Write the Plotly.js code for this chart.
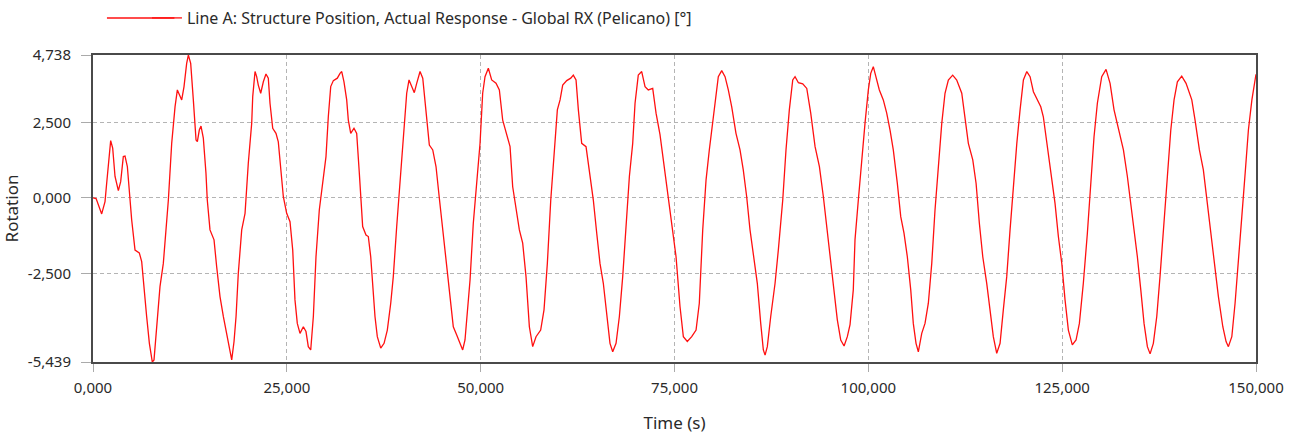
<!DOCTYPE html>
<html>
<head>
<meta charset="utf-8">
<script src="https://cdn.plot.ly/plotly-3.0.1.min.js"></script>
<style>
html,body{margin:0;padding:0;background:#fff;}
#chart{width:1297px;height:435px;}
</style>
</head>
<body>
<div id="chart"></div>
<script>
// Time (s)
const time = [
 0,0.4,1.12,1.55,1.76,1.98,2.28,2.54,2.84,3.27,3.57,3.91,4.13,4.43,4.77,4.99,5.42,5.97,6.28,6.58,
 6.92,7.27,7.65,7.87,8.21,8.64,9.07,9.72,10.15,10.58,10.88,11.14,11.44,11.74,12.08,12.3,12.6,12.94,13.29,13.46,
 13.71,13.93,14.23,14.57,14.74,15.09,15.61,15.95,16.38,16.81,17.24,17.67,17.89,18.19,18.45,18.74,19.18,19.61,20.03,20.47,
 20.6,20.9,21.11,21.32,21.63,21.97,22.31,22.61,22.83,23.18,23.6,23.9,24.34,
 24.55,24.98,25.41,25.76,26.05,26.35,26.7,27.13,27.47,27.77,28.08,28.42,28.76,29.19,29.63,30.05,30.35,30.66,31.0,31.51,
 31.86,32.08,32.37,32.72,32.93,33.24,33.66,34.01,34.35,34.78,35.21,35.51,35.82,36.08,36.37,36.67,37.11,37.54,37.96,38.4,
 38.73,39.17,39.6,40.11,40.46,40.76,41.1,41.44,41.75,42.18,42.53,42.82,43.04,43.38,43.82,44.24,44.67,45.18,45.62,46.05,
 46.47,46.91,47.34,47.68,47.98,48.41,
 48.63,49.05,49.49,49.92,50.26,50.56,50.99,51.42,51.98,52.41,52.84,53.36,53.79,54.13,54.56,54.99,55.42,55.85,56.28,56.71,
 57.14,57.74,58.17,58.6,59.04,59.46,59.89,60.24,60.58,61.1,61.62,61.95,62.3,62.6,63.03,63.59,64.01,64.53,64.97,65.39,
 65.82,66.26,66.68,67.03,67.46,67.89,68.32,68.75,69.18,69.61,69.91,70.33,70.77,71.2,71.62,72.19,72.62,73.13,73.56,
 74.2,74.77,75.2,75.71,76.14,76.65,77.22,77.78,78.2,78.64,79.07,79.49,79.93,80.36,80.65,81.09,81.52,81.94,82.38,82.93,
 83.45,83.87,84.31,84.74,85.26,85.68,86.12,86.46,86.68,86.97,87.41,87.97,88.39,88.96,89.38,89.81,90.25,90.55,90.98,91.54,
 92.06,92.57,93.13,93.69,94.2,94.64,95.06,95.49,96.0,96.44,96.87,97.29,97.64,
 98.06,98.28,98.71,99.15,99.57,100.0,100.31,100.64,100.99,101.42,101.93,102.37,102.8,103.22,103.74,104.18,104.6,105.03,105.47,105.8,
 106.15,106.45,106.89,107.31,107.74,108.18,108.6,109.03,109.47,109.89,110.32,110.88,111.4,112.05,112.47,112.9,113.47,113.9,114.32,114.76,
 115.27,115.7,116.12,116.56,116.99,117.41,117.85,118.28,118.71,119.15,119.57,120.0,120.44,120.86,121.29,121.81,122.24,
 122.57,123.01,123.66,124.08,124.51,124.95,125.37,125.8,126.31,126.79,127.22,127.73,128.25,128.68,129.11,129.54,130.1,130.66,131.18,131.69,
 132.25,132.9,133.41,133.85,134.27,134.7,135.14,135.56,135.99,136.34,136.76,137.2,137.62,138.14,138.57,139.01,139.43,139.86,140.42,140.98,
 141.72,142.14,142.7,143.21,143.65,144.17,144.59,145.15,145.72,146.14,146.44,146.88,147.3,147.73,148.17,148.6,149.02,149.47,149.9,150
];

// Rotation (°)
const rotation = [
 0,-0.02,-0.53,-0.12,0.48,1.15,1.90,1.65,0.71,0.24,0.54,1.37,1.39,1.04,0,-0.73,-1.73,-1.82,-2.11,-3.05,
 -3.93,-4.82,-5.439,-5.37,-4.27,-2.94,-2.17,-0.07,1.81,3.02,3.58,3.41,3.25,3.69,4.46,4.738,4.46,3.25,1.92,1.87,
 2.25,2.38,1.98,0.82,-0.07,-1.06,-1.39,-2.28,-3.27,-3.93,-4.49,-5.15,-5.37,-4.76,-3.93,-2.50,-1.06,-0.51,1.15,2.48,
 3.36,4.19,4.02,3.74,3.47,3.85,4.11,3.97,3.14,2.31,2.14,1.86,0.48,
 0.04,-0.51,-0.79,-1.73,-3.38,-4.16,-4.49,-4.27,-4.43,-4.93,-5.04,-3.93,-1.95,-0.39,0.48,1.37,2.69,3.69,3.89,3.97,
 4.13,4.19,3.85,3.25,2.58,2.14,2.31,2.14,0.82,-0.95,-1.23,-1.28,-1.95,-2.83,-3.93,-4.60,-4.98,-4.82,-4.38,-3.49,
 -2.61,-0.95,0.48,2.36,3.47,3.91,3.69,3.49,3.80,4.19,3.97,3.25,2.58,1.75,1.59,1.04,-0.01,-1.28,-2.28,-3.27,
 -4.27,-4.54,-4.82,-5.04,-4.71,-3.38,
 -2.72,-0.84,0.48,1.81,3.47,4.02,4.30,3.91,3.80,3.58,2.58,2.14,1.70,0.37,-0.40,-1.06,-1.50,-2.61,-4.27,-4.93,
 -4.60,-4.38,-3.71,-2.17,-0.07,1.59,2.92,3.25,3.74,3.89,3.97,4.07,3.91,2.92,1.81,1.70,0.93,-0.07,-1.17,-2.17,
 -2.83,-3.93,-4.82,-5.10,-4.82,-3.93,-2.61,-0.95,0.71,1.81,3.14,4.07,4.19,3.69,3.58,3.63,2.81,2.10,1.26,
 0.04,-1.06,-1.95,-3.60,-4.60,-4.76,-4.60,-4.38,-3.49,-1.06,0.60,1.59,2.58,3.47,4.02,4.22,4.02,3.58,3.02,2.14,
 1.59,0.93,0.04,-1.06,-1.95,-2.83,-4.16,-5.04,-5.21,-4.93,-3.93,-2.83,-1.73,-0.07,1.59,2.92,3.91,4.02,3.82,3.78,
 3.63,2.81,1.70,1.04,0.04,-0.95,-1.95,-3.05,-4.04,-4.71,-4.91,-4.60,-4.20,
 -3.05,-1.39,-0.07,1.37,2.47,3.58,4.13,4.35,4.02,3.58,3.25,2.81,2.25,1.59,0.48,-0.62,-1.17,-1.95,-3.05,-4.16,
 -4.82,-5.10,-4.49,-4.16,-3.49,-2.17,-0.40,1.04,2.47,3.47,3.91,4.07,3.91,3.47,2.69,1.81,1.26,0.48,-0.84,-1.95,
 -2.83,-3.71,-4.60,-5.15,-4.82,-3.71,-2.61,-1.06,0.48,1.81,2.92,3.91,4.19,4.02,3.52,3.25,3.02,
 2.69,1.81,0.48,-0.18,-1.28,-2.17,-3.38,-4.38,-4.87,-4.71,-4.16,-2.83,-1.17,0.48,2.03,3.14,4.02,4.26,3.80,2.92,
 2.25,1.59,0.71,-0.18,-1.06,-1.95,-3.05,-4.16,-4.93,-5.17,-4.82,-3.93,-2.61,-0.95,0.71,2.25,3.25,3.85,4.04,3.80,
 3.25,2.58,1.59,0.93,-0.07,-1.06,-2.17,-3.27,-4.27,-4.76,-4.93,-4.60,-3.49,-2.17,-0.62,0.82,2.25,3.25,4.02,4.10
];

const seriesName = "Line A: Structure Position, Actual Response - Global RX (Pelicano) [°]";
const xTickVals = [0, 25, 50, 75, 100, 125, 150];
const xTickText = ["0,000", "25,000", "50,000", "75,000", "100,000", "125,000", "150,000"];
const yTickVals = [4.738, 2.5, 0, -2.5, -5.439];
const yTickText = ["4,738", "2,500", "0,000", "-2,500", "-5,439"];
const xTitle = "Time (s)";
const yTitle = "Rotation";

const FONT = "Noto Sans, Open Sans, DejaVu Sans, sans-serif";
const TXT = "#2a2a2a";

const trace = {
  x: time, y: rotation, type: "scatter", mode: "lines",
  name: seriesName,
  line: {color: "#ff1010", width: 1.3}
};

const layout = {
  width: 1297, height: 435,
  margin: {l: 93, r: 41, t: 55, b: 73, pad: 0, autoexpand: false},
  paper_bgcolor: "#ffffff", plot_bgcolor: "#ffffff",
  font: {family: FONT, size: 15, color: TXT},
  showlegend: true,
  legend: {
    orientation: "h", x: 0.0464, xanchor: "left", y: 1.1205, yanchor: "middle",
    font: {family: FONT, size: 16, color: TXT},
    bgcolor: "rgba(0,0,0,0)", borderwidth: 0
  },
  xaxis: {
    range: [0, 150], tickmode: "array", tickvals: xTickVals, ticktext: xTickText,
    showgrid: true, gridcolor: "#b4b4b4", griddash: "4px,3px", gridwidth: 1,
    zeroline: false, showline: true, mirror: true, linecolor: "#4a4a4a", linewidth: 2,
    ticks: "outside", ticklen: 8, tickcolor: "#aaaaaa", tickwidth: 1,
    ticklabelstandoff: 3,
    tickfont: {family: FONT, size: 15, color: TXT},
    title: {text: xTitle, font: {family: FONT, size: 17, color: TXT}, standoff: 21},
    automargin: false,
    fixedrange: true
  },
  yaxis: {
    range: [-5.439, 4.738], tickmode: "array", tickvals: yTickVals, ticktext: yTickText,
    showgrid: true, gridcolor: "#b4b4b4", griddash: "4px,3px", gridwidth: 1,
    zeroline: false, showline: true, mirror: true, linecolor: "#4a4a4a", linewidth: 2,
    ticks: "outside", ticklen: 10, tickcolor: "#aaaaaa", tickwidth: 1,
    ticklabelstandoff: 7,
    tickfont: {family: FONT, size: 15, color: TXT},
    title: {text: yTitle, font: {family: FONT, size: 17, color: TXT}, standoff: 6},
    automargin: false,
    fixedrange: true
  },
  shapes: [
    {type: "line", xref: "paper", yref: "paper", x0: 0.012, x1: 0.07, y0: 1.1205, y1: 1.1205,
     line: {color: "#ff1010", width: 1.3}}
  ]
};

Plotly.newPlot("chart", [trace], layout, {staticPlot: true, displayModeBar: false});
</script>
</body>
</html>
